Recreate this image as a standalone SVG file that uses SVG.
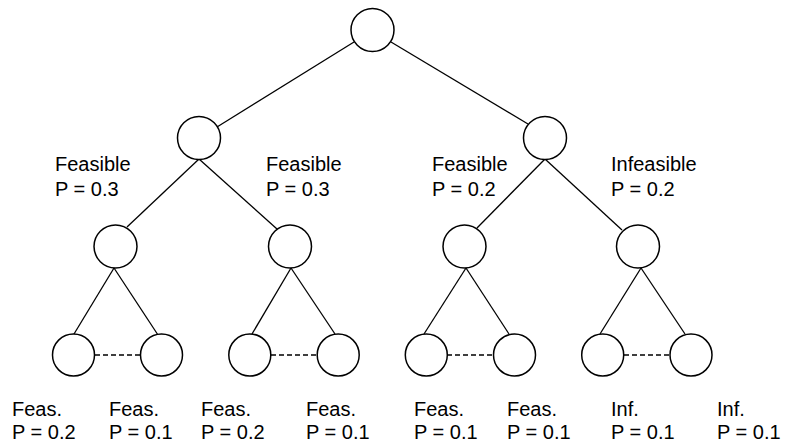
<svg xmlns="http://www.w3.org/2000/svg" width="786" height="444" viewBox="0 0 786 444">
  <style>
    .node { fill: #ffffff; stroke: #000000; stroke-width: 1.5; }
    .edge { stroke: #000000; stroke-width: 1.3; fill: none; }
    .dash { stroke: #000000; stroke-width: 1.3; stroke-dasharray: 5 3; fill: none; }
    .lbl { font-family: "Liberation Sans", Arial, sans-serif; font-size: 20px; fill: #000000; }
  </style>
  <rect width="786" height="444" fill="#ffffff"/>

  <!-- connectors -->
  <g id="edges">
    <line class="edge" x1="354" y1="42" x2="217" y2="127"/>
    <line class="edge" x1="391" y1="42" x2="528" y2="124"/>
    <line class="edge" x1="199" y1="159" x2="127" y2="227"/>
    <line class="edge" x1="199" y1="159" x2="277" y2="229"/>
    <line class="edge" x1="545" y1="159" x2="477" y2="228"/>
    <line class="edge" x1="545" y1="159" x2="622" y2="230"/>
    <line class="edge" x1="114" y1="268" x2="74" y2="334"/>
    <line class="edge" x1="114" y1="268" x2="158" y2="335"/>
    <line class="edge" x1="291" y1="268" x2="252" y2="334"/>
    <line class="edge" x1="291" y1="268" x2="335" y2="334"/>
    <line class="edge" x1="466" y1="268" x2="424" y2="334"/>
    <line class="edge" x1="466" y1="268" x2="509" y2="334"/>
    <line class="edge" x1="641" y1="268" x2="600" y2="334"/>
    <line class="edge" x1="641" y1="268" x2="685" y2="334"/>
    <line class="dash" x1="95" y1="355" x2="140" y2="355"/>
    <line class="dash" x1="271" y1="355" x2="317" y2="355"/>
    <line class="dash" x1="447" y1="355" x2="493" y2="355"/>
    <line class="dash" x1="624" y1="355" x2="670" y2="355"/>
  </g>

  <!-- nodes -->
  <g id="root"><circle class="node" cx="372.5" cy="30" r="21.5"/></g>
  <g id="n1"><circle class="node" cx="199" cy="138" r="21.5"/></g>
  <g id="n2"><circle class="node" cx="545" cy="138" r="21.5"/></g>
  <g id="n11"><circle class="node" cx="115.5" cy="246.5" r="21.5"/></g>
  <g id="n12"><circle class="node" cx="290" cy="246.5" r="21.5"/></g>
  <g id="n21"><circle class="node" cx="464.5" cy="246.5" r="21.5"/></g>
  <g id="n22"><circle class="node" cx="638" cy="246.5" r="21.5"/></g>
  <g id="leaf1"><circle class="node" cx="73.5" cy="355" r="21"/></g>
  <g id="leaf2"><circle class="node" cx="161.5" cy="355" r="21"/></g>
  <g id="leaf3"><circle class="node" cx="249.8" cy="355" r="21"/></g>
  <g id="leaf4"><circle class="node" cx="338.2" cy="355" r="21"/></g>
  <g id="leaf5"><circle class="node" cx="426.3" cy="355" r="21"/></g>
  <g id="leaf6"><circle class="node" cx="514.5" cy="355" r="21"/></g>
  <g id="leaf7"><circle class="node" cx="602.7" cy="355" r="21"/></g>
  <g id="leaf8"><circle class="node" cx="691" cy="355" r="21"/></g>

  <!-- branch labels -->
  <g id="labels">
    <text class="lbl" x="55" y="171">Feasible</text>
    <text class="lbl" x="55" y="196">P = 0.3</text>
    <text class="lbl" x="266" y="171">Feasible</text>
    <text class="lbl" x="266" y="196">P = 0.3</text>
    <text class="lbl" x="432" y="171">Feasible</text>
    <text class="lbl" x="432" y="196">P = 0.2</text>
    <text class="lbl" x="611" y="171">Infeasible</text>
    <text class="lbl" x="611" y="196">P = 0.2</text>

    <text class="lbl" x="12" y="416">Feas.</text>
    <text class="lbl" x="12" y="439">P = 0.2</text>
    <text class="lbl" x="109" y="416">Feas.</text>
    <text class="lbl" x="109" y="439">P = 0.1</text>
    <text class="lbl" x="201" y="416">Feas.</text>
    <text class="lbl" x="201" y="439">P = 0.2</text>
    <text class="lbl" x="306" y="416">Feas.</text>
    <text class="lbl" x="306" y="439">P = 0.1</text>
    <text class="lbl" x="414" y="416">Feas.</text>
    <text class="lbl" x="414" y="439">P = 0.1</text>
    <text class="lbl" x="507" y="416">Feas.</text>
    <text class="lbl" x="507" y="439">P = 0.1</text>
    <text class="lbl" x="611" y="416">Inf.</text>
    <text class="lbl" x="611" y="439">P = 0.1</text>
    <text class="lbl" x="717" y="416">Inf.</text>
    <text class="lbl" x="717" y="439">P = 0.1</text>
  </g>
</svg>
